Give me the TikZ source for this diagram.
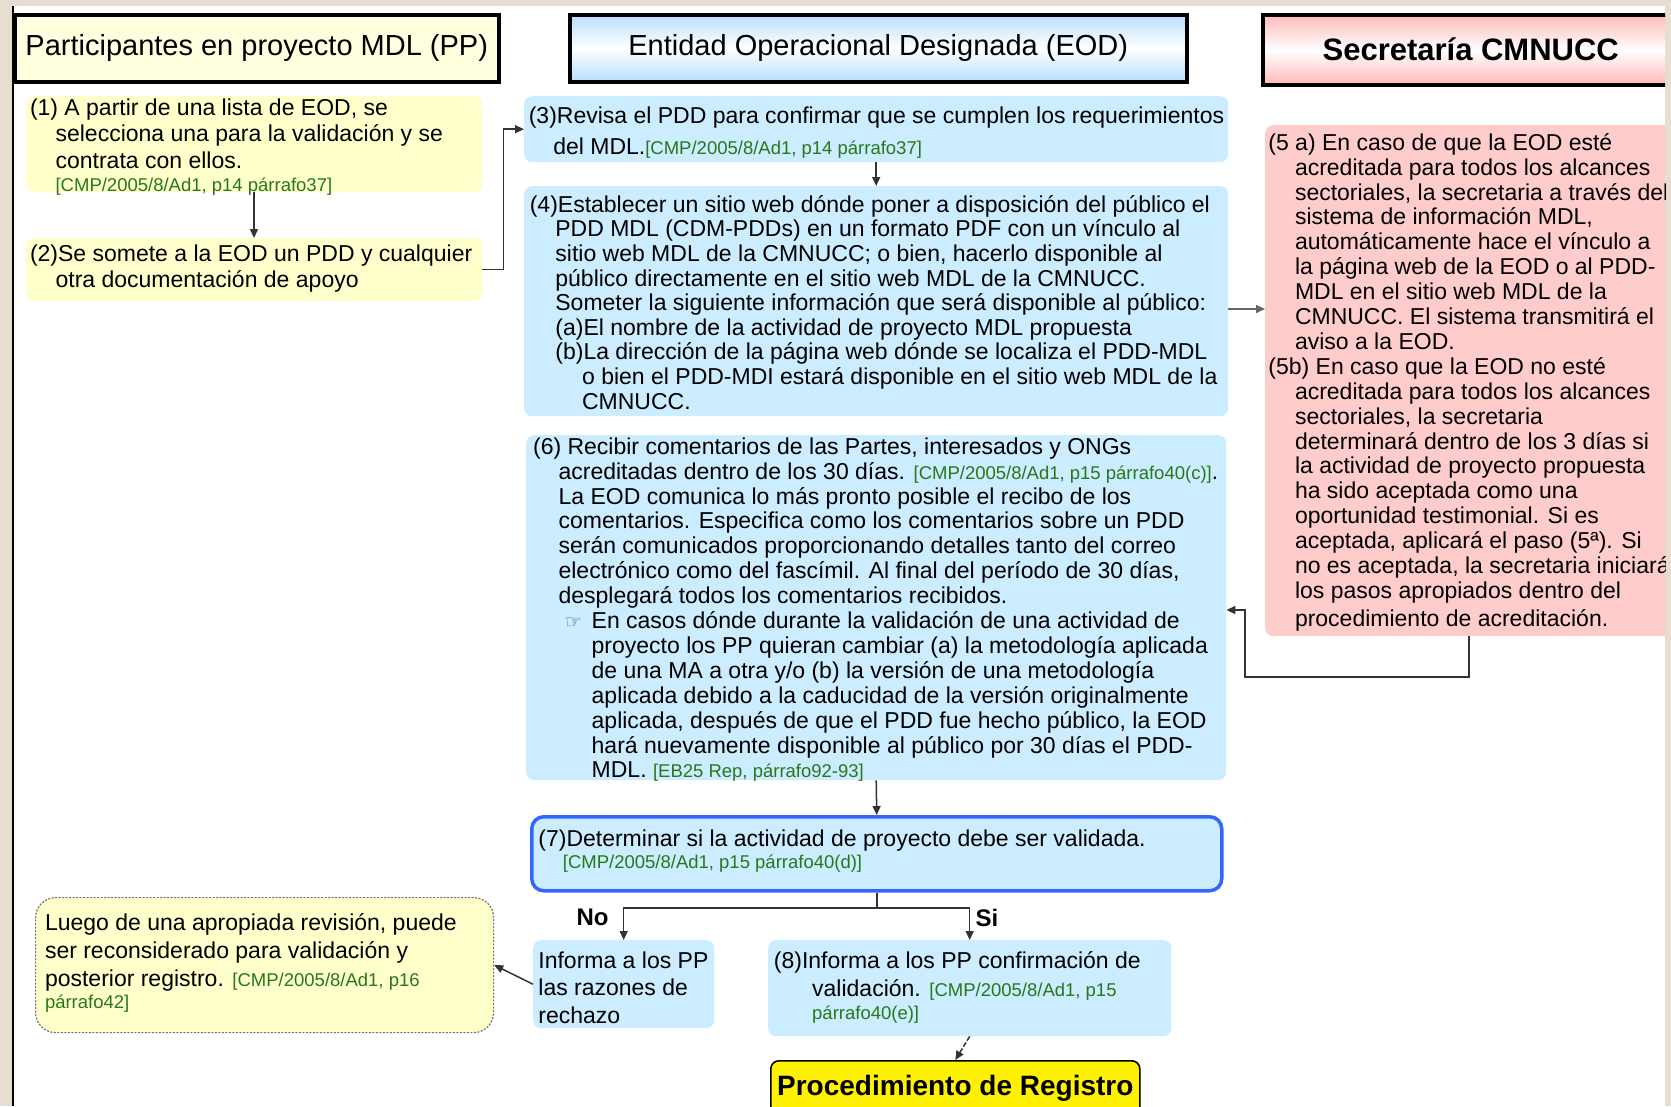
\documentclass[tikz,border=0pt]{standalone}
\usepackage{fontspec}
\setmainfont{Liberation Sans}
\newfontfamily\symfont{DejaVu Sans}
\usetikzlibrary{arrows.meta}
\definecolor{beige}{RGB}{230,222,208}
\definecolor{ylw}{RGB}{255,255,204}
\definecolor{hdrylw}{RGB}{255,255,224}
\definecolor{blu}{RGB}{204,236,255}
\definecolor{hdrblu}{RGB}{185,222,255}
\definecolor{pnk}{RGB}{255,204,204}
\definecolor{hdrpnk}{RGB}{255,185,185}
\definecolor{refgreen}{RGB}{40,120,25}
\definecolor{bordblue}{RGB}{51,102,255}
\newcommand\refs[1]{{\fontsize{18.5}{20}\selectfont\color{refgreen}#1}}
\newcommand\fl{\rule{0pt}{20pt}}
\newcommand\hin[1]{\hspace*{#1pt}}
\tikzset{
  hdr/.style={draw=black, line width=3.5pt, anchor=north west, inner sep=0pt},
  box/.style={rounded corners=8pt, anchor=north west, inner sep=0pt},
  ybox/.style={box, fill=ylw},
  bbox/.style={box, fill=blu},
  pbox/.style={box, fill=pnk},
  txt/.style={anchor=north west, inner sep=0pt, align=left, font=\fontsize{23}{25}\selectfont},
  conn/.style={draw=black!80, line width=1.5pt, -{Triangle[length=9pt,width=8pt]}},
  lbl/.style={inner sep=0pt, font=\fontsize{24}{26}\selectfont\bfseries},
}
\begin{document}
\begin{tikzpicture}[x=1pt,y=-1pt]
\useasboundingbox (0,0) rectangle (1671,1106);
\fill[beige] (0,0) rectangle (1671,1106);
\begin{scope}
\clip (12,6) rectangle (1665,1106);
\fill[white] (12,6) rectangle (1665,1106);

% headers
\node[hdr, fill=hdrylw, minimum width=484pt, minimum height=67pt, font=\fontsize{29}{32}\selectfont] (hpp) at (13,13) {Participantes en proyecto MDL (PP)};
\node[hdr, top color=hdrblu, bottom color=hdrblu, middle color=white, minimum width=617pt, minimum height=67pt, font=\fontsize{29}{32}\selectfont] (heod) at (568,13) {Entidad Operacional Designada (EOD)};
\node[hdr, top color=hdrpnk, bottom color=hdrpnk, middle color=white, minimum width=416pt, minimum height=70pt, font=\fontsize{31}{34}\selectfont\bfseries] (hsec) at (1261,13) {Secretaría CMNUCC};

% boxes
\node[ybox, minimum width=456pt, minimum height=96pt] (b1) at (26,96) {};
\node[ybox, minimum width=456pt, minimum height=63pt] (b2) at (26,238) {};
\node[bbox, minimum width=704pt, minimum height=66pt] (b3) at (524,96) {};
\node[bbox, minimum width=704pt, minimum height=230pt] (b4) at (524,186) {};
\node[pbox, minimum width=408pt, minimum height=511pt] (b5) at (1265,125) {};
\node[bbox, minimum width=700pt, minimum height=345pt] (b6) at (526,435) {};
\node[bbox, draw=bordblue, line width=3.5pt, rounded corners=12pt, minimum width=690pt, minimum height=74pt] (b7) at (530,815) {};
\node[bbox, minimum width=181pt, minimum height=88pt] (bno) at (533,940) {};
\node[bbox, minimum width=403pt, minimum height=96pt] (b8) at (768,940) {};
\node[ybox, draw=black!55, dashed, dash pattern=on 2pt off 1.5pt, line width=1.2pt, rounded corners=20pt, minimum width=458pt, minimum height=135pt] (bl) at (35,897) {};
\node[box, fill=yellow, draw=black, line width=1.6pt, minimum width=369pt, minimum height=56pt, font=\fontsize{28}{30}\selectfont\bfseries] (breg) at (770,1060) {Procedimiento de Registro};

% texts
\node[txt, font=\fontsize{23}{26.6}\selectfont] (t1) at (29.8,95) {\fl(1) A partir de una lista de EOD, se\\
\hin{25.6}selecciona una para la validación y se\\
\hin{25.6}contrata con ellos.\\[-4pt]
\hin{25.6}\refs{[CMP/2005/8/Ad1, p14 párrafo37]}};

\node[txt, font=\fontsize{23}{26.6}\selectfont] (t2) at (29.8,241) {\fl(2)Se somete a la EOD un PDD y cualquier\\
\hin{25.6}otra documentación de apoyo};

\node[txt, font=\fontsize{23}{31}\selectfont] (t3) at (528.6,103.5) {\fl(3)Revisa el PDD para confirmar que se cumplen los requerimientos\\
\hin{24.5}del MDL.\refs{[CMP/2005/8/Ad1, p14 párrafo37]}};

\node[txt, font=\fontsize{23}{24.6}\selectfont] (t4) at (529.6,192) {\fl(4)Establecer un sitio web dónde poner a disposición del público el\\
\hin{25.6}PDD MDL (CDM-PDDs) en un formato PDF con un vínculo al\\
\hin{25.6}sitio web MDL de la CMNUCC; o bien, hacerlo disponible al\\
\hin{25.6}público directamente en el sitio web MDL de la CMNUCC.\\
\hin{25.6}Someter la siguiente información que será disponible al público:\\
\hin{25.6}(a)El nombre de la actividad de proyecto MDL propuesta\\
\hin{25.6}(b)La dirección de la página web dónde se localiza el PDD-MDL\\
\hin{52.3}o bien el PDD-MDI estará disponible en el sitio web MDL de la\\
\hin{52.3}CMNUCC.};

\node[txt, font=\fontsize{23}{24.9}\selectfont] (t5) at (1268.2,130) {\fl(5 a) En caso de que la EOD esté\\
\hin{26.6}acreditada para todos los alcances\\
\hin{26.6}sectoriales, la secretaria a través del\\
\hin{26.6}sistema de información MDL,\\
\hin{26.6}automáticamente hace el vínculo a\\
\hin{26.6}la página web de la EOD o al PDD-\\
\hin{26.6}MDL en el sitio web MDL de la\\
\hin{26.6}CMNUCC. El sistema transmitirá el\\
\hin{26.6}aviso a la EOD.\\
(5b) En caso que la EOD no esté\\
\hin{26.6}acreditada para todos los alcances\\
\hin{26.6}sectoriales, la secretaria\\
\hin{26.6}determinará dentro de los 3 días si\\
\hin{26.6}la actividad de proyecto propuesta\\
\hin{26.6}ha sido aceptada como una\\
\hin{26.6}oportunidad testimonial. Si es\\
\hin{26.6}aceptada, aplicará el paso (5ª). Si\\
\hin{26.6}no es aceptada, la secretaria iniciará\\
\hin{26.6}los pasos apropiados dentro del\\[3pt]
\hin{26.6}procedimiento de acreditación.};

\node[txt, font=\fontsize{23}{24.9}\selectfont] (t6) at (532.9,434) {\fl(6) Recibir comentarios de las Partes, interesados y ONGs\\
\hin{25.5}acreditadas dentro de los 30 días. \refs{[CMP/2005/8/Ad1, p15 párrafo40(c)]}.\\
\hin{25.5}La EOD comunica lo más pronto posible el recibo de los\\
\hin{25.5}comentarios. Especifica como los comentarios sobre un PDD\\
\hin{25.5}serán comunicados proporcionando detalles tanto del correo\\
\hin{25.5}electrónico como del fascímil. Al final del período de 30 días,\\
\hin{25.5}desplegará todos los comentarios recibidos.\\
\hin{32}\makebox[26.6pt][l]{\symfont\fontsize{19}{19}\selectfont\color{black!65}☞}En casos dónde durante la validación de una actividad de\\
\hin{58.6}proyecto los PP quieran cambiar (a) la metodología aplicada\\
\hin{58.6}de una MA a otra y/o (b) la versión de una metodología\\
\hin{58.6}aplicada debido a la caducidad de la versión originalmente\\
\hin{58.6}aplicada, después de que el PDD fue hecho público, la EOD\\
\hin{58.6}hará nuevamente disponible al público por 30 días el PDD-\\
\hin{58.6}MDL. \refs{[EB25 Rep, párrafo92-93]}};

\node[txt] (t7) at (538.2,826) {\fl(7)Determinar si la actividad de proyecto debe ser validada.\\[-2.6pt]
\hin{24.5}\refs{[CMP/2005/8/Ad1, p15 párrafo40(d)]}};

\node[txt, font=\fontsize{23}{27.7}\selectfont] (tno) at (538.2,948) {\fl Informa a los PP\\
las razones de\\
rechazo};

\node[txt, font=\fontsize{23}{27.7}\selectfont] (t8) at (773.7,948.5) {\fl(8)Informa a los PP confirmación de\\
\hin{38.3}validación. \refs{[CMP/2005/8/Ad1, p15}\\[-4.6pt]
\hin{38.3}\refs{párrafo40(e)]}};

\node[txt, font=\fontsize{23}{28}\selectfont] (tl) at (44.8,910) {\fl Luego de una apropiada revisión, puede\\
ser reconsiderado para validación y\\
posterior registro. \refs{[CMP/2005/8/Ad1, p16}\\[-5.5pt]
\refs{párrafo42]}};

% labels
\node[lbl] (lno) at (592.5,917.5) {No};
\node[lbl] (lsi) at (987,917.5) {Si};

% helper coordinates
\coordinate (x12) at (254,0);
\coordinate (y45) at (0,309);
\coordinate (y56) at (0,677);
\coordinate (x56) at (1245,0);
\coordinate (y65) at (0,610);
\coordinate (ybr) at (0,908);

% connectors
\draw[conn] (b1.south -| x12) -- (b2.north -| x12);
\draw[conn] (b2.east) -- ++(21,0) |- (b3.west);
\draw[conn] (b3.south) -- (b4.north);
\draw[conn, draw=black!60] (b4.east |- y45) -- (b5.west |- y45);
\draw[conn] (b5.south) -- (b5.south |- y56) -- (x56 |- y56) -- (x56 |- y65) -- (b6.east |- y65);
\draw[conn] (b6.south) -- (b7.north);
\draw[line width=1.5pt, draw=black!80] (b7.south) -- (b7.south |- ybr);
\draw[conn] (b7.south |- ybr) -| (bno.north);
\draw[conn] (b7.south |- ybr) -| (b8.north);
\draw[conn] (bno.west) -- (bl.east);
\draw[conn, dash pattern=on 5pt off 2pt] (b8.south) -- (breg.north);
\end{scope}
\draw[line width=2pt] (12.5,6) -- (12.5,1106);
\end{tikzpicture}
\end{document}
